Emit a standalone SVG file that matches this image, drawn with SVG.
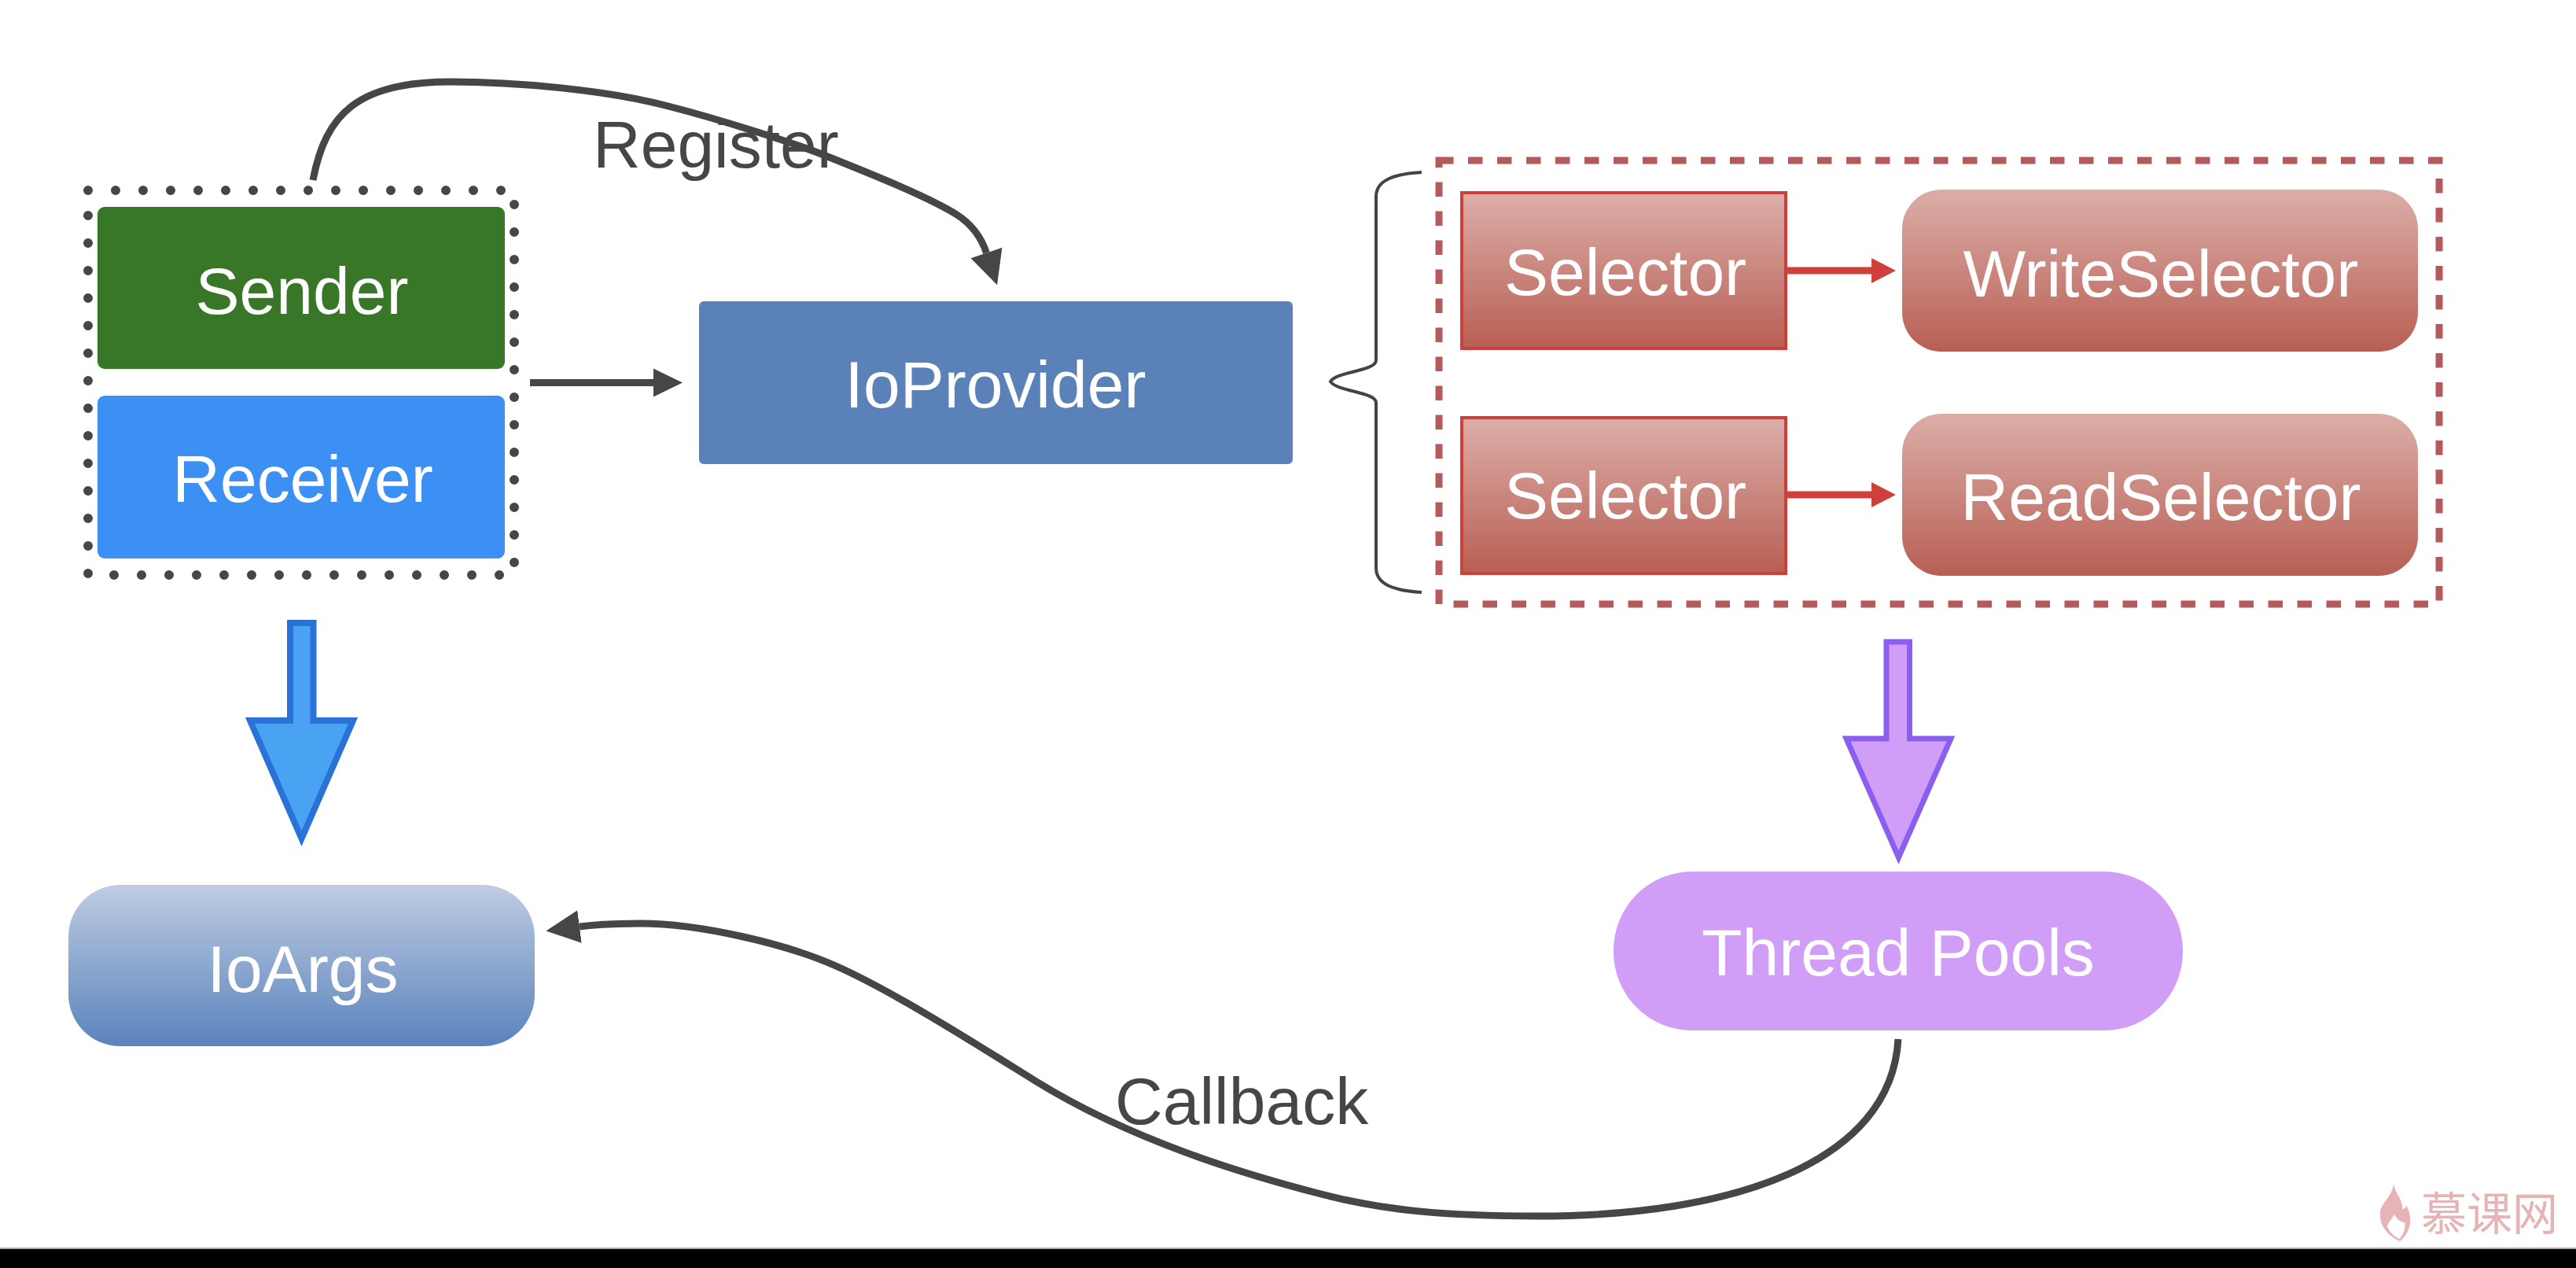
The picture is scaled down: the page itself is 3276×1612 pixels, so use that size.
<svg xmlns="http://www.w3.org/2000/svg" width="3276" height="1612" viewBox="0 0 3276 1612">
<style>
text{font-family:"Liberation Sans",Arial,sans-serif;font-size:84px;text-anchor:middle;fill:#fff}
.lbl{fill:#464646;text-anchor:start}
.wm{font-family:"Noto Sans CJK SC","Noto Sans",sans-serif;font-size:58px;fill:#e6b4b4;text-anchor:start}
.conn{fill:none;stroke:#464646;stroke-width:9}
.red{stroke:#d0403a;stroke-width:9;fill:none}
.sel{fill:url(#gRed);stroke:#cf3f38;stroke-width:4}
.rnd{fill:url(#gRed)}
</style>
<defs>
<linearGradient id="gRed" x1="0" y1="0" x2="0" y2="1"><stop offset="0" stop-color="#dcaea8"/><stop offset="1" stop-color="#b85f54"/></linearGradient>
<linearGradient id="gBlue" x1="0" y1="0" x2="0" y2="1"><stop offset="0" stop-color="#bfcce3"/><stop offset="1" stop-color="#5a83bc"/></linearGradient>
<marker id="headL" markerUnits="userSpaceOnUse" markerWidth="46" markerHeight="46" refX="0" refY="23" orient="auto"><path d="M0,2 L43,23 L0,44 Z" fill="#464646"/></marker>
<marker id="headS" markerUnits="userSpaceOnUse" markerWidth="40" markerHeight="40" refX="0" refY="20" orient="auto"><path d="M0,2 L37,20 L0,38 Z" fill="#464646"/></marker>
<marker id="headR" markerUnits="userSpaceOnUse" markerWidth="34" markerHeight="36" refX="0" refY="18" orient="auto"><path d="M0,2 L31,18 L0,34 Z" fill="#d0403a"/></marker>
</defs>
<rect width="3276" height="1612" fill="#fff"/>
<g id="group-io"><rect x="112" y="242" width="542" height="489" fill="none" stroke="#464646" stroke-width="12" stroke-linecap="round" stroke-dasharray="0 35"/></g>
<g id="sender"><rect x="124" y="263" width="518" height="206" rx="9" fill="#387728"/><text x="384" y="399">Sender</text></g>
<g id="receiver"><rect x="124" y="503" width="518" height="207" rx="9" fill="#3d90f3"/><text x="385" y="638">Receiver</text></g>
<g id="ioprovider"><rect x="889" y="383" width="755" height="207" rx="6" fill="#5a82b8"/><text x="1266" y="518">IoProvider</text></g>
<g id="group-selectors"><rect x="1830" y="204" width="1272" height="564" fill="none" stroke="#b55a5c" stroke-width="9" stroke-dasharray="18.5 18.5"/></g>
<g id="brace"><path d="M1808,219 C1775,221 1750,228 1750,250 L1750,458 C1750,472 1700,472 1692,485 C1700,498 1750,498 1750,512 L1750,722 C1750,744 1775,751 1808,753" fill="none" stroke="#444" stroke-width="4"/></g>
<g id="selector-1"><rect class="sel" x="1859" y="245" width="412" height="198"/><text x="2067" y="375">Selector</text></g>
<g id="write-selector"><rect class="rnd" x="2419" y="241" width="656" height="206" rx="50"/><text x="2748" y="377">WriteSelector</text></g>
<g id="selector-2"><rect class="sel" x="1859" y="531" width="412" height="198"/><text x="2067" y="659">Selector</text></g>
<g id="read-selector"><rect class="rnd" x="2419" y="526" width="656" height="206" rx="50"/><text x="2748" y="661">ReadSelector</text></g>
<g id="ioargs"><rect x="87" y="1125" width="593" height="205" rx="66" fill="url(#gBlue)"/><text x="385" y="1261">IoArgs</text></g>
<g id="thread-pools"><rect x="2052" y="1108" width="724" height="202" rx="100" fill="#d09df7"/><text x="2414" y="1240">Thread Pools</text></g>
<g id="connectors">
<path class="conn" marker-end="url(#headL)" d="M398,229 C414,145 455,104 572,104 C655,104 770,114 850,135 C920,153 1010,182 1050,198 C1110,222 1180,250 1217,273 C1237,286 1248,302 1254.500,321.500"/>
<path class="conn" stroke-width="10" marker-end="url(#headS)" d="M674,486.500 L831,486.500"/>
<path class="red" marker-end="url(#headR)" d="M2272,344 L2380,344"/>
<path class="red" marker-end="url(#headR)" d="M2272,629 L2380,629"/>
<path class="conn" marker-end="url(#headL)" d="M2414,1321 C2405,1480 2200,1546 1956,1546 C1840,1546 1760,1539 1680,1518 C1580,1492 1440,1450 1318,1375 C1255,1336 1140,1262 1063,1228 C1000,1200 890,1174 814,1174 C790,1174 760,1175 737,1178"/>
<path d="M369,792 H398.500 V916 H449 L383.500,1066 L318,916 H369 Z" fill="#4aa3f2" stroke="#2a72d8" stroke-width="8"/>
<path d="M2399,816 H2428.500 V939 H2481 L2414.500,1090 L2348,939 H2399 Z" fill="#d09df7" stroke="#8a5ff0" stroke-width="7"/>
</g>
<text class="lbl" x="754" y="213">Register</text>
<text class="lbl" x="1418" y="1429">Callback</text>
<g id="watermark"><path fill-rule="evenodd" d="M3044,1505 C3046,1518 3056,1524 3055,1537 C3058,1537 3060,1535 3060,1532 C3068,1545 3068,1565 3052,1578 C3036,1570 3025,1558 3027,1540 C3029,1528 3042,1522 3044,1505 Z M3045,1544 C3040,1552 3036,1556 3036,1560 C3040,1568 3048,1574 3052,1575 C3056,1568 3060,1562 3058,1554 C3054,1554 3050,1552 3045,1544 Z" fill="#e6b4b4"/><text class="wm" x="3079" y="1564">慕课网</text></g>
<g id="footer"><rect x="0" y="1586" width="3276" height="2" fill="#aaa"/><rect x="0" y="1588" width="3276" height="24" fill="#000"/></g>
</svg>
